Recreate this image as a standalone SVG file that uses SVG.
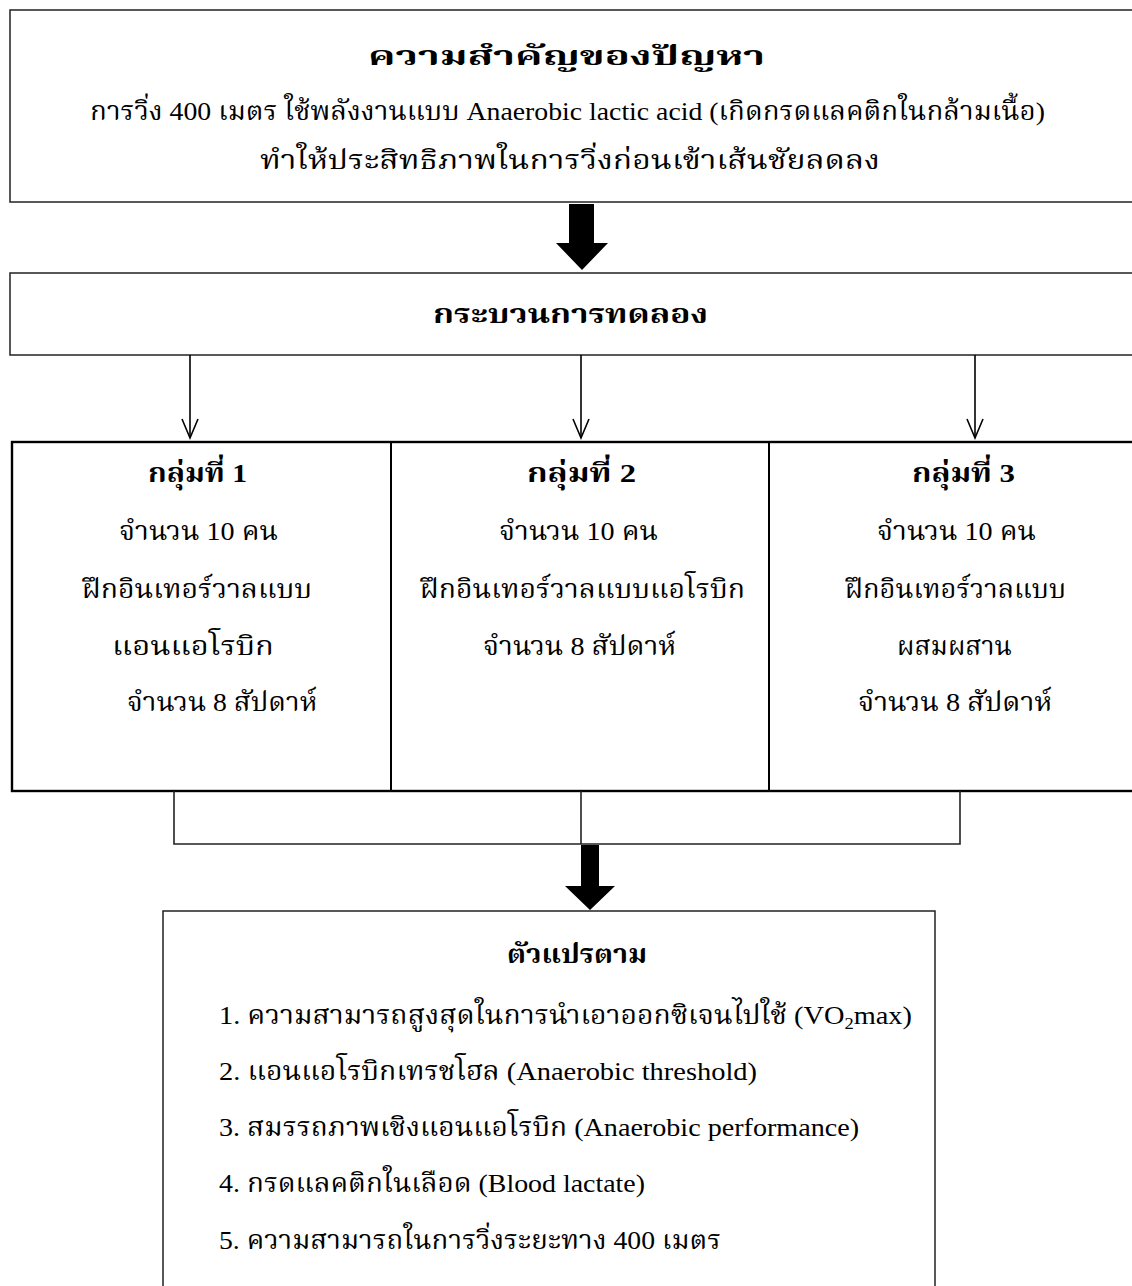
<svg xmlns="http://www.w3.org/2000/svg" width="1132" height="1286" viewBox="0 0 1132 1286">
<style>
text{font-family:"Liberation Serif","Noto Serif Thai","Noto Sans Thai","Noto Sans","DejaVu Sans",serif;font-size:26px;fill:#000}
.b{font-weight:bold}
.box{fill:#fff;stroke:#222;stroke-width:1.5}
.gbox{fill:#fff;stroke:#000;stroke-width:2.4}
.div{stroke:#000;stroke-width:2}
.ln{fill:none;stroke:#222;stroke-width:1.6}
.thin{fill:none;stroke:#000;stroke-width:1.6}
.fat{fill:#000}
</style>
<defs>
<marker id="vh" markerWidth="24" markerHeight="20" refX="20" refY="9" orient="auto" markerUnits="userSpaceOnUse" viewBox="0 0 24 20">
<path d="M1,1 L20,9 L1,17" fill="none" stroke="#000" stroke-width="1.6"/>
</marker>
</defs>
<rect width="1132" height="1286" fill="#fff"/>

<g id="problem">
<rect class="box" x="10" y="10" width="1140" height="192"/>
<text class="b" x="368" y="65" textLength="397" lengthAdjust="spacingAndGlyphs">ความสำคัญของปัญหา</text>
<text x="90" y="120" textLength="955" lengthAdjust="spacingAndGlyphs">การวิ่ง 400 เมตร ใช้พลังงานแบบ Anaerobic lactic acid (เกิดกรดแลคติกในกล้ามเนื้อ)</text>
<text x="260" y="169" textLength="620" lengthAdjust="spacingAndGlyphs">ทำให้ประสิทธิภาพในการวิ่งก่อนเข้าเส้นชัยลดลง</text>
</g>

<g id="process">
<rect class="box" x="10" y="273" width="1140" height="82"/>
<text class="b" x="433" y="323" textLength="275" lengthAdjust="spacingAndGlyphs">กระบวนการทดลอง</text>
</g>

<g id="groups">
<rect class="gbox" x="12" y="442" width="1140" height="349"/>
<line class="div" x1="391" y1="442" x2="391" y2="791"/>
<line class="div" x1="769" y1="442" x2="769" y2="791"/>
</g>

<g id="group1">
<text class="b" x="148" y="482" textLength="99" lengthAdjust="spacingAndGlyphs">กลุ่มที่ 1</text>
<text x="119" y="540" textLength="159" lengthAdjust="spacingAndGlyphs">จำนวน 10 คน</text>
<text x="82" y="598" textLength="230" lengthAdjust="spacingAndGlyphs">ฝึกอินเทอร์วาลแบบ</text>
<text x="112" y="655" textLength="162" lengthAdjust="spacingAndGlyphs">แอนแอโรบิก</text>
<text x="127" y="711" textLength="190" lengthAdjust="spacingAndGlyphs">จำนวน 8 สัปดาห์</text>
</g>

<g id="group2">
<text class="b" x="527" y="482" textLength="109" lengthAdjust="spacingAndGlyphs">กลุ่มที่ 2</text>
<text x="499" y="540" textLength="159" lengthAdjust="spacingAndGlyphs">จำนวน 10 คน</text>
<text x="420" y="598" textLength="325" lengthAdjust="spacingAndGlyphs">ฝึกอินเทอร์วาลแบบแอโรบิก</text>
<text x="483" y="655" textLength="193" lengthAdjust="spacingAndGlyphs">จำนวน 8 สัปดาห์</text>
</g>

<g id="group3">
<text class="b" x="912" y="482" textLength="103" lengthAdjust="spacingAndGlyphs">กลุ่มที่ 3</text>
<text x="877" y="540" textLength="159" lengthAdjust="spacingAndGlyphs">จำนวน 10 คน</text>
<text x="845" y="598" textLength="221" lengthAdjust="spacingAndGlyphs">ฝึกอินเทอร์วาลแบบ</text>
<text x="897" y="655" textLength="115" lengthAdjust="spacingAndGlyphs">ผสมผสาน</text>
<text x="858" y="711" textLength="194" lengthAdjust="spacingAndGlyphs">จำนวน 8 สัปดาห์</text>
</g>

<g id="outcomes">
<rect class="box" x="163" y="911" width="772" height="400"/>
<text class="b" x="507" y="963" textLength="140" lengthAdjust="spacingAndGlyphs">ตัวแปรตาม</text>
<text x="219" y="1024" textLength="693" lengthAdjust="spacingAndGlyphs">1. ความสามารถสูงสุดในการนำเอาออกซิเจนไปใช้ (VO<tspan font-size="17" dy="5">2</tspan><tspan dy="-5">max)</tspan></text>
<text x="219" y="1080" textLength="538" lengthAdjust="spacingAndGlyphs">2. แอนแอโรบิกเทรชโฮล (Anaerobic threshold)</text>
<text x="219" y="1136" textLength="640" lengthAdjust="spacingAndGlyphs">3. สมรรถภาพเชิงแอนแอโรบิก (Anaerobic performance)</text>
<text x="219" y="1192" textLength="426" lengthAdjust="spacingAndGlyphs">4. กรดแลคติกในเลือด (Blood lactate)</text>
<text x="219" y="1249" textLength="502" lengthAdjust="spacingAndGlyphs">5. ความสามารถในการวิ่งระยะทาง 400 เมตร</text>
</g>

<g id="connectors">
<path class="fat" d="M569,204 H594 V243 H608 L582,270 L556,243 H569 Z"/>
<line class="thin" x1="190" y1="355" x2="190" y2="438" marker-end="url(#vh)"/>
<line class="thin" x1="581" y1="355" x2="581" y2="438" marker-end="url(#vh)"/>
<line class="thin" x1="975" y1="355" x2="975" y2="438" marker-end="url(#vh)"/>
<path class="ln" d="M174,791 V844 H960 V791 M581,791 V844"/>
<path class="fat" d="M581,845 H599 V886 H615 L590,910 L565,886 H581 Z"/>
</g>
</svg>
